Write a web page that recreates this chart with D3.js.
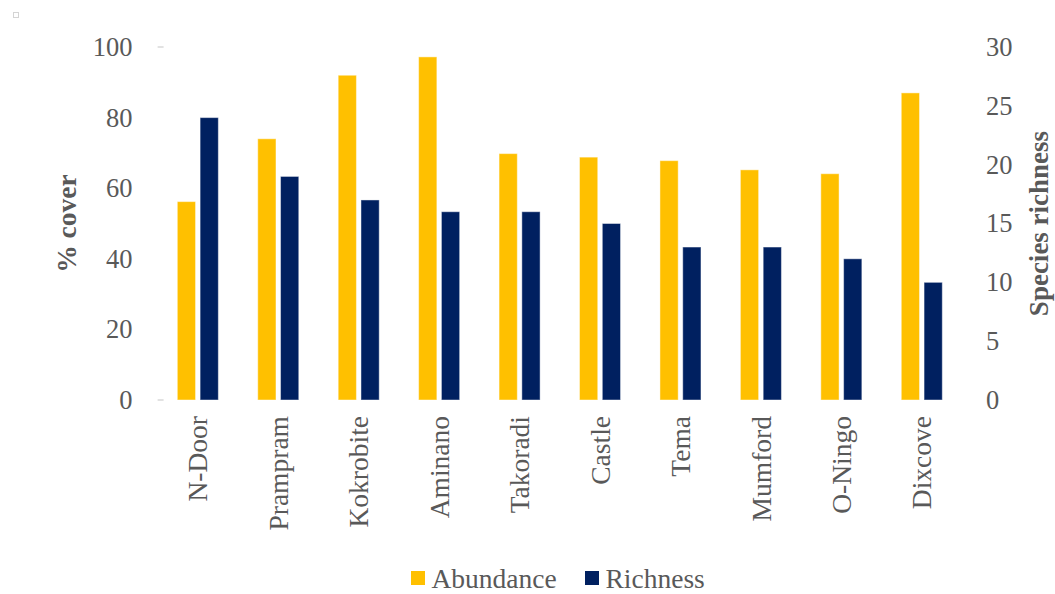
<!DOCTYPE html>
<html>
<head>
<meta charset="utf-8">
<script src="https://cdn.jsdelivr.net/npm/d3@7"></script>
<style>
  html, body { margin: 0; padding: 0; background: #fff; }
  svg { display: block; font-family: "Liberation Serif", "Times New Roman", serif; }
</style>
</head>
<body>
<svg id="chart" width="1055" height="594"></svg>
<script>
// Sites along the coast
const sites = ["N-Door", "Prampram", "Kokrobite", "Aminano", "Takoradi", "Castle", "Tema", "Mumford", "O-Ningo", "Dixcove"];
// Percentage cover per site (left axis)
const abundance = [56.2, 74, 92, 97.2, 69.8, 68.8, 67.8, 65.2, 64.1, 87];
// Number of species per site (right axis)
const richness = [24, 19, 17, 16, 16, 15, 13, 13, 12, 10];
const seriesNames = ["Abundance", "Richness"];
const leftTicks = [0, 20, 40, 60, 80, 100];
const rightTicks = [0, 5, 10, 15, 20, 25, 30];

const colors = { Abundance: "#FFC000", Richness: "#002060" };
const textColor = "#595959";

const svg = d3.select("#chart");
const plot = { left: 157.6, right: 962, top: 47, bottom: 400 };

const x0 = d3.scaleBand().domain(sites).range([plot.left, plot.right])
  .paddingInner(0.49).paddingOuter(0.245);
const x1 = d3.scaleBand().domain(seriesNames).range([0, x0.bandwidth()]).paddingInner(0.2);
const yL = d3.scaleLinear().domain([0, 100]).range([plot.bottom, plot.top]);
const yR = d3.scaleLinear().domain([0, 30]).range([plot.bottom, plot.top]);

// small marker in the corner
svg.append("rect").attr("x", 13.5).attr("y", 12.5).attr("width", 5).attr("height", 5)
  .attr("fill", "none").attr("stroke", "#d4d4d4").attr("stroke-width", 1);

// left axis
const gL = svg.append("g").attr("transform", `translate(${plot.left},0)`)
  .call(d3.axisLeft(yL).tickValues(leftTicks).tickSize(0).tickPadding(25));
gL.select(".domain").remove();
gL.selectAll("text").attr("fill", textColor).style("font-size", "26.5px")
  .style("font-family", "Liberation Serif, serif");

// faint tick marks on the left axis
svg.append("g").selectAll("line").data([0, 100]).join("line")
  .attr("x1", plot.left).attr("x2", plot.left + 6)
  .attr("y1", d => yL(d)).attr("y2", d => yL(d))
  .attr("stroke", "#d9d9d9").attr("stroke-width", 1.5);

// right axis
const gR = svg.append("g").attr("transform", `translate(${plot.right},0)`)
  .call(d3.axisRight(yR).tickValues(rightTicks).tickSize(0).tickPadding(24));
gR.select(".domain").remove();
gR.selectAll("text").attr("fill", textColor).style("font-size", "26.5px")
  .style("font-family", "Liberation Serif, serif");

// bars
const rows = sites.map((s, i) => ({ site: s, Abundance: abundance[i], Richness: richness[i] }));
const scaleFor = { Abundance: yL, Richness: yR };
svg.append("g").selectAll("g").data(rows).join("g")
  .attr("transform", d => `translate(${x0(d.site)},0)`)
  .selectAll("rect")
  .data(d => seriesNames.map(k => ({ key: k, value: d[k] })))
  .join("rect")
  .attr("x", d => x1(d.key))
  .attr("width", x1.bandwidth())
  .attr("y", d => scaleFor[d.key](d.value))
  .attr("height", d => plot.bottom - scaleFor[d.key](d.value))
  .attr("fill", d => colors[d.key])
  .attr("stroke", "#ffffff").attr("stroke-opacity", 0.45).attr("stroke-width", 1);

// category labels, rotated
const gX = svg.append("g").attr("transform", `translate(0,${plot.bottom})`)
  .call(d3.axisBottom(x0).tickSize(0).tickPadding(0));
gX.select(".domain").remove();
gX.selectAll("text")
  .attr("fill", textColor).style("font-size", "27.5px")
  .style("font-family", "Liberation Serif, serif")
  .attr("text-anchor", "end")
  .attr("transform", "rotate(-90)")
  .attr("x", -16).attr("y", 0).attr("dy", "0.35em");

// axis titles
svg.append("text")
  .attr("transform", `translate(66,${(plot.top + plot.bottom) / 2}) rotate(-90)`)
  .attr("text-anchor", "middle").attr("dy", "0.35em")
  .attr("fill", textColor).attr("font-weight", "bold").style("font-size", "27.5px")
  .text("% cover");
svg.append("text")
  .attr("transform", `translate(1048,${(plot.top + plot.bottom) / 2}) rotate(-90)`)
  .attr("text-anchor", "middle")
  .attr("fill", textColor).attr("font-weight", "bold").style("font-size", "27px")
  .text("Species richness");

// legend
const legend = svg.append("g").attr("transform", "translate(411,571)");
const items = [{ name: "Abundance", dx: 0 }, { name: "Richness", dx: 174 }];
const li = legend.selectAll("g").data(items).join("g").attr("transform", d => `translate(${d.dx},0)`);
li.append("rect").attr("width", 14).attr("height", 14).attr("fill", d => colors[d.name]);
li.append("text").attr("x", 20.5).attr("y", 17)
  .attr("fill", textColor).style("font-size", "27.5px").text(d => d.name);
</script>
</body>
</html>
